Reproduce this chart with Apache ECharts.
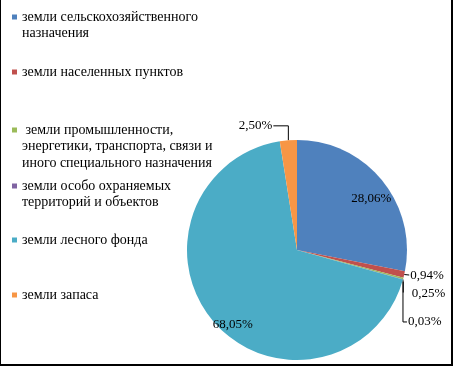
<!DOCTYPE html>
<html><head><meta charset="utf-8">
<script src="https://cdn.jsdelivr.net/npm/echarts@6/dist/echarts.min.js"></script>
<style>
html,body{margin:0;padding:0;background:#fff}
#wrap{position:relative;width:453px;height:366px}
#c{width:453px;height:366px}
#frame{position:absolute;left:0;top:0;width:453px;height:366px;box-sizing:border-box;border-left:1px solid #000;border-right:2px solid #000;border-bottom:2px solid #000;pointer-events:none}
</style></head>
<body><div id="wrap"><div id="c"></div><div id="frame"></div></div>
<script>
// ---- data ----
const categories = [
  'земли сельскохозяйственного назначения',
  'земли населенных пунктов',
  'земли промышленности, энергетики, транспорта, связи и иного специального назначения',
  'земли особо охраняемых территорий и объектов',
  'земли лесного фонда',
  'земли запаса'
];
const legendText = [
  'земли сельскохозяйственного\nназначения',
  'земли населенных пунктов',
  ' земли промышленности,\nэнергетики, транспорта, связи и\nиного специального назначения',
  'земли особо охраняемых\nтерриторий и объектов',
  'земли лесного фонда',
  'земли запаса'
];
const shares = [28.06, 0.94, 0.25, 0.03, 68.05, 2.50];

// ---- style ----
const colors = ['#4F81BD', '#C0504D', '#9BBB59', '#8064A2', '#4BACC6', '#F79646'];
const FONT = "'Liberation Serif', 'Times New Roman', serif";
const LH = 16.5;
const legendFirstLineY = [17, 72, 130, 186, 240, 295];
const labelStyle = [
  {inside: true, dx: 29.5, dy: -15},
  {dx: 6, dy: 1, align: 'left', line: [[0, 0], [5, 0.5]]},
  {dx: 8.5, dy: 15.5, align: 'left', line: [[0, 3], [0, 14]]},
  {dx: 5, dy: 42.5, align: 'left', line: [[0, 0], [0, 42.5], [4, 42.5]]},
  {inside: true, dx: -21, dy: 36.4},
  {dx: -16, dy: -14.5, align: 'right', line: [[0, 0], [0, -14.5], [-15, -14.5]]}
];

const legends = categories.map((name, i) => {
  const n = legendText[i].split('\n').length;
  // blank lines above so the marker sits beside the first text line
  const shown = '\n'.repeat(n - 1) + legendText[i];
  return {
    show: true, orient: 'vertical', left: 12,
    top: legendFirstLineY[i] - (n - 1) * LH - LH / 2,
    padding: 0, itemWidth: 5, itemHeight: 5, icon: 'rect',
    selectedMode: false,
    data: [name],
    formatter: () => shown,
    textStyle: {fontFamily: FONT, fontSize: 14, color: '#000', lineHeight: LH}
  };
});

const fmt = v => v.toFixed(2).replace('.', ',') + '%';

const chart = echarts.init(document.getElementById('c'), null, {renderer: 'canvas'});
chart.setOption({
  animation: false,
  backgroundColor: '#fff',
  textStyle: {fontFamily: FONT},
  legend: legends,
  series: [{
    type: 'pie',
    center: [297, 250],
    radius: 110,
    startAngle: 90,
    clockwise: true,
    avoidLabelOverlap: false,
    itemStyle: {borderWidth: 0},
    label: {
      show: true, position: 'outside',
      fontFamily: FONT, fontSize: 13, color: '#000',
      formatter: p => fmt(p.value)
    },
    labelLine: {show: true, length: 5, length2: 5, lineStyle: {color: '#000', width: 1}},
    labelLayout: function (p) {
      const s = labelStyle[p.dataIndex];
      if (s.inside) return {dx: s.dx, dy: s.dy};
      const e = p.labelLinePoints && p.labelLinePoints[0];
      if (!e) return {};
      return {
        x: e[0] + s.dx, y: e[1] + s.dy, align: s.align, verticalAlign: 'middle',
        labelLinePoints: s.line.map(q => [e[0] + q[0], e[1] + q[1]])
      };
    },
    data: categories.map((name, i) => ({
      name, value: shares[i],
      itemStyle: {color: colors[i]},
      label: labelStyle[i].inside ? {position: 'inside'} : undefined,
      labelLine: labelStyle[i].inside ? {show: false} : undefined
    }))
  }]
});
</script>
</body></html>
